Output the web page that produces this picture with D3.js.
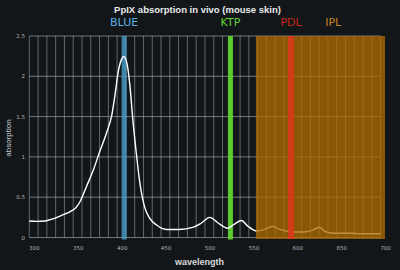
<!DOCTYPE html>
<html><head><meta charset="utf-8">
<script src="https://cdn.jsdelivr.net/npm/d3@7"></script>
<style>html,body{margin:0;padding:0;background:#121619;}svg{display:block;}</style>
</head><body><svg id="c" width="400" height="270"></svg>
<script>
const wavelength = [292,300,310,320,330,340,345,350,357,365,372,380,386,390,393,397,399.5,403,406.5,410,413.5,418,423.5,429,437,448,463,478,488,497.5,507,518,524,533.5,541,551,560,569,577,589,604,613,622,630,642,657,672,692];
const absorption = [0.205,0.20,0.205,0.235,0.28,0.33,0.37,0.45,0.63,0.84,1.06,1.30,1.52,1.80,2.04,2.21,2.245,2.17,1.89,1.45,1.08,0.67,0.37,0.24,0.155,0.10,0.10,0.125,0.18,0.25,0.18,0.115,0.155,0.21,0.14,0.08,0.10,0.14,0.10,0.072,0.068,0.085,0.127,0.068,0.052,0.052,0.047,0.047];
const xTicks = [300,350,400,450,500,550,600,650,700];
const yTicks = [0,0.5,1,1.5,2,2.5];
const bandNames = ["BLUE","KTP","PDL","IPL"];
const bandCenters = [400,521,590,null];
const bandLabelAt = [400,521,590,638];
const iplRange = [550,697];

const svg = d3.select("#c");
const x = d3.scaleLinear().domain([292,697]).range([29.3,385]);
const y = d3.scaleLinear().domain([0,2.5]).range([237.5,36]);
const gridMax = 692;

// grid
const g = svg.append("g");
g.selectAll("line.v").data(d3.range(292, gridMax+1, 10)).join("line")
  .attr("x1",d=>x(d)).attr("x2",d=>x(d)).attr("y1",y(2.5)).attr("y2",y(0))
  .attr("stroke","#9aa0a6").attr("stroke-opacity",0.75).attr("stroke-width",0.8);
g.selectAll("line.h").data(yTicks).join("line")
  .attr("x1",x(292)).attr("x2",x(gridMax)).attr("y1",d=>y(d)).attr("y2",d=>y(d))
  .attr("stroke","#a8aeb4").attr("stroke-opacity",0.8).attr("stroke-width",0.8);

// tick labels
svg.append("g").selectAll("text").data(yTicks).join("text")
  .attr("x",25).attr("y",d=>y(d)+2).attr("text-anchor","end")
  .attr("font-family","DejaVu Sans, sans-serif").attr("font-size",5.5).attr("fill","#b0b4b8")
  .text(d=>d);
svg.append("g").selectAll("text").data(xTicks).join("text")
  .attr("x",d=>x(d)-2).attr("y",250).attr("text-anchor","middle")
  .attr("font-family","DejaVu Sans, sans-serif").attr("font-size",5.5).attr("fill","#b0b4b8")
  .text(d=>d);

const colors = {BLUE:"#4aa0cc", KTP:"#5fd22c", PDL:"#d8381a"};
const labelColors = {BLUE:"#5ab0e4", KTP:"#5fd22c", PDL:"#c8281a", IPL:"#c8802a"};

// blue & green bands under curve
[0,1].forEach(i=>{
  const n = bandNames[i], c = bandCenters[i];
  svg.append("rect").attr("x",x(c)-2.5).attr("width",5).attr("y",36).attr("height",203.5)
    .attr("fill",colors[n]).attr("opacity",n==="BLUE"?0.8:0.95);
});

// curve
const line = d3.line().x((d,i)=>x(wavelength[i])).y(d=>y(d)).curve(d3.curveMonotoneX);
svg.append("path").datum(absorption).attr("d",line)
  .attr("fill","none").attr("stroke","#ffffff").attr("stroke-width",1.4);

// IPL overlay
svg.append("rect").attr("x",x(iplRange[0])).attr("width",x(iplRange[1])-x(iplRange[0]))
  .attr("y",36).attr("height",203).attr("fill","#b06c00").attr("opacity",0.76);
// PDL band
svg.append("rect").attr("x",x(bandCenters[2])-3).attr("width",6).attr("y",36).attr("height",203)
  .attr("fill",colors.PDL).attr("opacity",0.9);

// band labels
svg.append("g").selectAll("text").data(bandNames).join("text")
  .attr("x",(d,i)=>x(bandLabelAt[i])).attr("y",26).attr("text-anchor","middle")
  .attr("font-family","DejaVu Sans, sans-serif").attr("font-size",11).attr("fill",d=>labelColors[d])
  .text(d=>d);

// title & axis labels
svg.append("text").attr("x",197.5).attr("y",13).attr("text-anchor","middle")
  .attr("font-family","Liberation Sans, Arial, sans-serif").attr("font-weight","bold").attr("font-size",9.5)
  .attr("fill","#e8eaec").text("PpIX absorption in vivo (mouse skin)");
svg.append("text").attr("transform","translate(11,138) rotate(-90)").attr("text-anchor","middle")
  .attr("font-family","Liberation Sans, Arial, sans-serif").attr("font-size",8)
  .attr("fill","#c8ccd0").text("absorption");
svg.append("text").attr("x",199.5).attr("y",265).attr("text-anchor","middle")
  .attr("font-family","Liberation Sans, Arial, sans-serif").attr("font-weight","bold").attr("font-size",9)
  .attr("fill","#d8dadc").text("wavelength");
</script></body></html>
